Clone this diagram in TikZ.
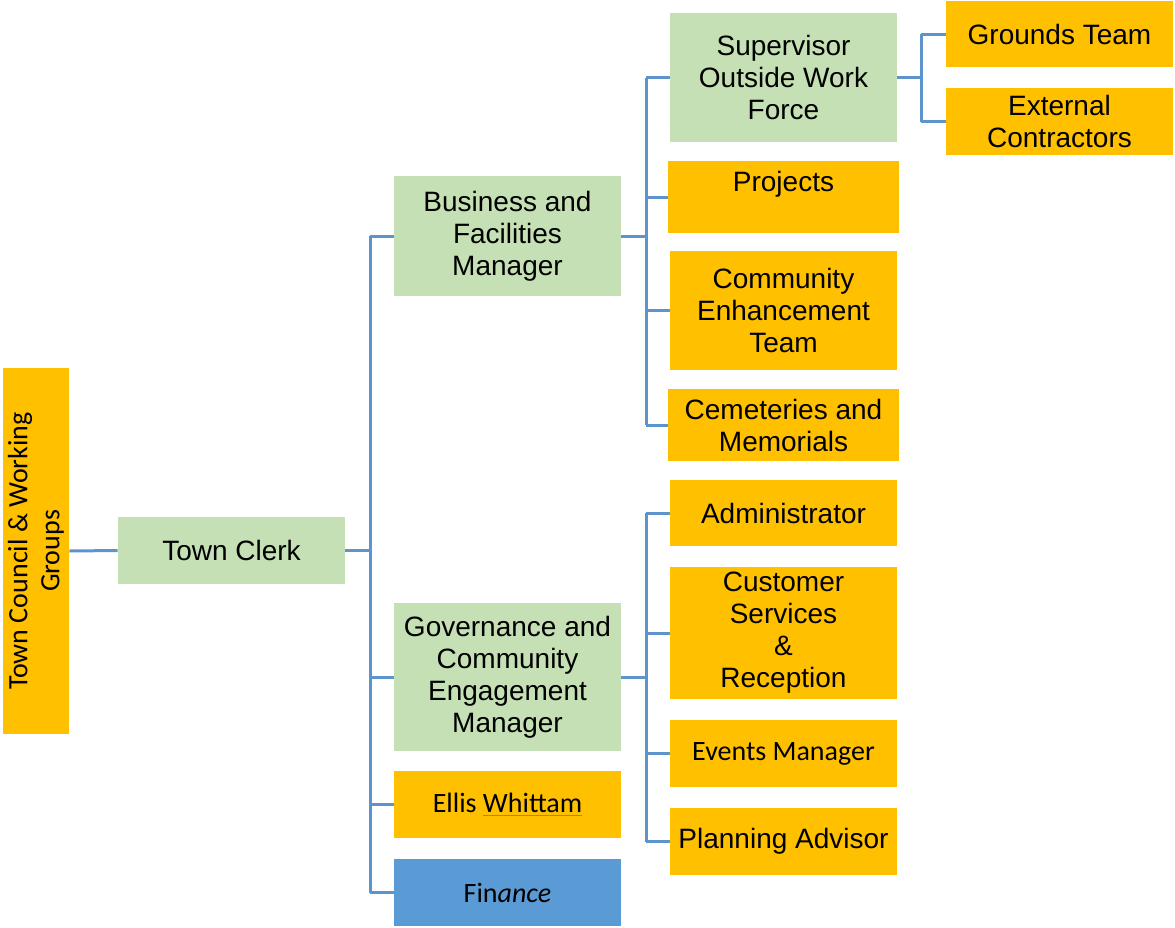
\documentclass[tikz,border=0pt]{standalone}
\usepackage{fontspec}
\setmainfont{Liberation Sans}
\newfontfamily\calibri{Carlito}
\usetikzlibrary{positioning}

\definecolor{boxorange}{HTML}{FFC000}
\definecolor{boxgreen}{HTML}{C5E0B4}
\definecolor{boxblue}{HTML}{5B9BD5}
\definecolor{linkblue}{HTML}{5E94CD}
\definecolor{spellred}{HTML}{F0603A}

\tikzset{
 box/.style={rectangle, inner sep=0pt, align=center, minimum width=113.5pt,
  font=\fontsize{14}{16}\selectfont},
 staff/.style={box, fill=boxorange},
 mgr/.style={box, fill=boxgreen},
 link/.style={draw=linkblue, line width=1.5pt}
}
\newcommand{\spellmark}[1]{{\color{spellred}\underline{\textcolor{black}{#1}}}}

\begin{document}
\begin{tikzpicture} [x=0.5pt, y=-0.5pt]
\useasboundingbox (0,0) rectangle (1175,928);

\node[staff, rotate=90, minimum width=183pt, minimum height=33pt, font=\calibri\fontsize{14}{16}\selectfont]
 (tcwg) at (36,551) {Town Council \& Working\\Groups};
\node[mgr, minimum height=33.5pt] (clerk) at (231.5,550.5) {Town Clerk};

% managers
\node[mgr, minimum height=60pt] (bfm) at (507.5,236) {Business and\\Facilities\\Manager};
\node[mgr, minimum height=74pt] (gcem) at (507.5,677) {Governance and\\Community\\Engagement\\Manager};
\node[staff, minimum height=33.5pt, font=\calibri\fontsize{14}{16}\selectfont] (ellis) at (507.5,804.5) {Ellis \spellmark{Whittam}};
\node[box, fill=boxblue, minimum height=33.5pt, font=\calibri\fontsize{14}{16}\selectfont] (fin) at (507.5,892.5) {Fin\textit{ance}};

% business side
\node[mgr, minimum height=64.5pt] (sup) at (783.5,77.5) {Supervisor\\Outside Work\\Force};
\node[staff, minimum width=115.5pt, minimum height=36pt] (proj) at (783.5,197) {Projects\\\mbox{}};
\node[staff, minimum height=59.5pt] (cet) at (783.5,310.5) {Community\\Enhancement\\Team};
\node[staff, minimum width=115.5pt, minimum height=36pt] (cem) at (783.5,425) {Cemeteries and\\Memorials};
\node[staff, minimum height=33pt] (gt) at (1059.5,34) {Grounds Team};
\node[staff, minimum height=33.5pt] (ext) at (1059.5,121.5) {External\\Contractors};

% governance side
\node[staff, minimum height=33pt] (adm) at (783.5,513) {Administrator};
\node[staff, minimum height=66pt] (csr) at (783.5,633) {Customer\\Services\\\&\\Reception};
\node[staff, minimum height=33.5pt, font=\calibri\fontsize{14}{16}\selectfont] (evm) at (783.5,753.5) {Events Manager};
\node[staff, minimum height=33.5pt] (pla) at (783.5,841.5) {Planning Advisor};

\draw[link] (tcwg.south) -- (clerk.west);

% buses
\draw[link] (clerk.east) -- ++(25,0) coordinate (b1);
\draw[link] (b1 |- bfm.west) -- (b1 |- fin.west);
\foreach \n in {bfm,gcem,ellis,fin}
 \draw[link] (b1 |- \n.west) -- (\n.west);

\draw[link] (bfm.east) -- ++(25,0) coordinate (b2);
\draw[link] (b2 |- sup.west) -- (b2 |- cem.west);
\foreach \n in {sup,proj,cet,cem}
 \draw[link] (b2 |- \n.west) -- (\n.west);

\draw[link] (gcem.east) -- ++(25,0) coordinate (b3);
\draw[link] (b3 |- adm.west) -- (b3 |- pla.west);
\foreach \n in {adm,csr,evm,pla}
 \draw[link] (b3 |- \n.west) -- (\n.west);

\draw[link] (sup.east) -- ++(24,0) coordinate (b4);
\draw[link] (b4 |- gt.west) -- (b4 |- ext.west);
\foreach \n in {gt,ext}
 \draw[link] (b4 |- \n.west) -- (\n.west);
\end{tikzpicture}
\end{document}
